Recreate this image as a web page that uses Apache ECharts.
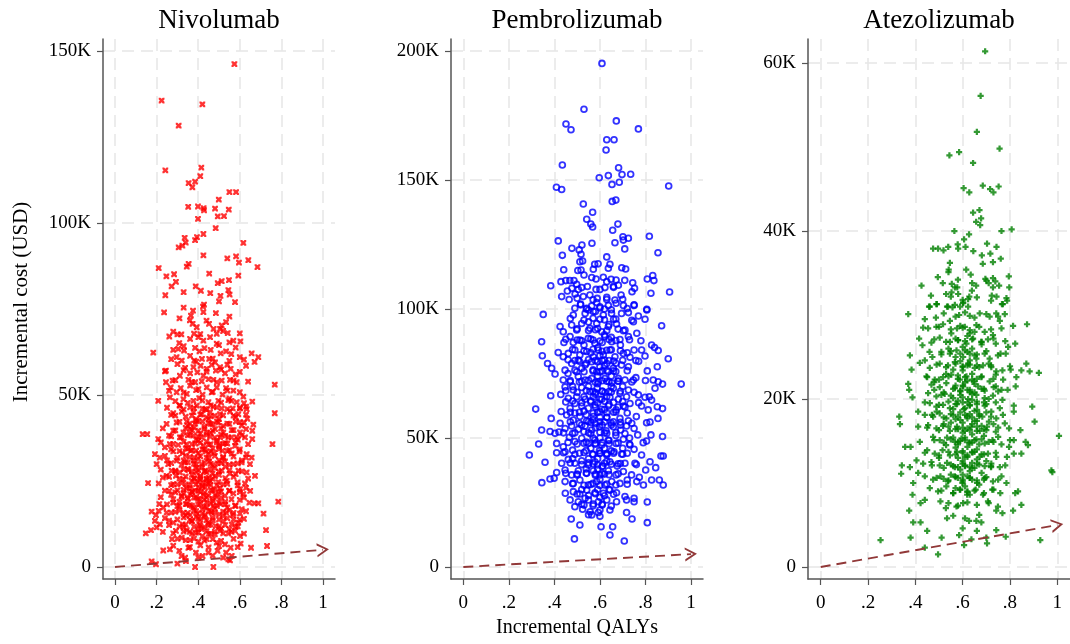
<!DOCTYPE html>
<html>
<head>
<meta charset="utf-8">
<script src="https://cdn.jsdelivr.net/npm/echarts@6/dist/echarts.min.js"></script>
<style>
html,body{margin:0;padding:0;background:#fff;}
#chart{width:1070px;height:644px;}
</style>
</head>
<body>
<div id="chart"></div>
<script>
// ---- data (incremental QALYs, incremental cost in thousand USD) ----
const drugs = ['Nivolumab', 'Pembrolizumab', 'Atezolizumab'];
const xTickValues = [0, 0.2, 0.4, 0.6, 0.8, 1];
const xTickLabels = ['0', '.2', '.4', '.6', '.8', '1'];
const yTicksNivo = [0, 50, 100, 150];
const yTicksPembro = [0, 50, 100, 150, 200];
const yTicksAtezo = [0, 20, 40, 60];
const yAxisTitle = 'Incremental cost (USD)';
const xAxisTitle = 'Incremental QALYs';
const wtpLine = [[0, 0], [1, 5]];

const nivolumab = [
[.574,146.2],[.224,135.6],[.42,134.5],[.306,128.3],[.242,115.3],[.415,116.1],[.41,113.6],[.354,111.6],[.385,112],[.372,110.4],[.55,109],[.582,109],[.499,106.8],[.352,104.7],[.399,104.8],[.426,104.3],[.428,103.7],[.481,104.2],[.547,103.9],[.494,101.9],[.524,102],[.399,101.2],[.484,98.5],[.335,95.7],[.34,94.3],[.324,93.4],[.306,92.9],[.385,95],[.394,95.9],[.425,96.8],[.617,94.2],[.425,90.6],[.54,89.7],[.582,90.3],[.596,88.5],[.641,89.2],[.685,87.2],[.21,86.9],[.345,87.3],[.354,88.1],[.247,84.5],[.284,85.1],[.293,82.9],[.272,81.6],[.453,85.3],[.494,82.5],[.513,83.1],[.548,83.4],[.593,84.7],[.388,81.6],[.413,80.3],[.33,79.9],[.242,79],[.458,79.6],[.507,78.8],[.545,80.5],[.551,79.2],
[.5,77.2],[.428,76.3],[.577,77],[.33,75.4],[.423,75.7],[.236,74],[.375,74.5],[.365,73.1],[.425,74.1],[.485,73.8],[.36,71.7],[.452,70.7],[.513,70.2],[.534,71.2],[.373,70.7],[.393,69.7],[.474,69.2],
[.261,67],[.3,67.6],[.319,67.6],[.38,67.8],[.401,66.8],[.361,66.3],[.425,65.8],[.457,66.8],[.489,67.8],[.505,69.2],[.542,68],[.55,65.3],[.569,65.8],[.603,65.6],[.309,65.1],[.489,64.9],
[.28,63.1],[.304,63.4],[.332,62.9],[.385,63.7],[.406,62.7],[.46,63.1],[.508,62.1],[.534,62.7],[.657,62.1],[.184,62.3],[.689,61],[.296,61],[.361,61.4],[.418,60.5],[.453,60.5],[.481,59.5],[.505,58.1],[.321,60],[.381,60],[.559,61.9],[.671,59.6],
[.3,59],[.337,57.9],[.377,58.1],[.412,58.5],[.441,57.6],[.465,58.8],[.54,58.8],[.63,58.5],[.24,56.9],[.245,57.1],[.361,56.3],[.396,56.6],[.425,55.6],[.485,57.1],[.529,56.3],[.556,57.6],[.312,55.6],[.277,54.2],
[.245,53.7],[.353,54.4],[.385,53.7],[.417,54],[.473,54.4],[.513,54.2],[.553,54.4],[.585,53.7],[.768,53],[.268,52.2],[.316,52],[.361,52.7],[.401,51.7],[.441,52.2],[.489,52.2],[.534,52],[.569,51.3],[.296,50.8],[.345,50.3],[.421,50.1],[.465,50.8],[.517,50.1],[.617,49.5],[.208,48.3],[.264,49.3],
[.329,48.8],[.377,48.3],[.405,49.1],[.449,47.9],[.497,48.3],[.545,48.5],[.585,47.9],[.63,46.6],[.312,46.9],[.361,46.4],[.393,46.9],[.433,45.9],[.473,46.6],[.513,46.1],[.566,46.1],[.601,46.1],[.633,45.9],[.28,44.7],[.321,45.2],[.377,45],[.417,44.4],[.457,45],[.505,44.4],[.553,45.2],[.593,44.4],[.768,44.7],[.636,43.1],[.665,41.4],
[.248,41.6],[.296,42],[.345,42.3],[.385,41.7],[.421,42.3],[.46,41.6],[.497,42],[.54,41.7],[.581,42.3],[.609,41.1],[.28,39.6],[.329,39.1],[.361,40.1],[.401,39.6],[.441,39.1],[.481,40.1],[.521,39.1],[.561,39.8],[.601,39.1],[.66,39.6],[.133,38.6],[.155,38.6],[.208,37.2],[.66,37.2],[.312,37.7],[.377,38.2],[.417,37.7],[.457,37.9],[.505,37.7],[.545,37.7],[.585,37.7],[.625,37.7],
[.264,35.7],[.304,35.5],[.345,35.7],[.385,35.9],[.425,35.2],[.46,35.7],[.501,35.5],[.54,35.9],[.577,35.2],[.757,35.7],[.24,34.8],[.192,32.8],[.28,33.6],[.325,33.1],[.364,33.8],[.401,33.1],[.437,33.6],[.476,33.1],[.517,33.8],[.561,33],[.598,33.6],[.633,32.8],[.657,31.8],[.216,31.8],
[.2,29.9],[.256,29.9],[.296,30.9],[.337,30.4],[.377,30.9],[.417,29.9],[.453,30.7],[.493,30.1],[.529,30.7],[.569,29.9],[.609,30.4],[.649,29.9],[.272,28],[.312,27.5],[.353,28.2],[.393,27.5],[.433,28],[.469,27.2],[.513,28],[.553,27.2],[.593,28],[.633,27.5],[.673,26.5],[.248,26.5],[.293,26.5],
[.159,24.4],[.329,25.5],[.369,25],[.409,25.5],[.421,24.6],[.441,24.3],[.457,25],[.497,24.7],[.537,25],[.589,24.6],[.625,24.3],[.28,24.1],[.261,22.1],[.3,22.3],[.345,22.9],[.385,22.3],[.401,23.1],[.433,23.1],[.469,22.3],[.505,22.9],[.549,22.1],[.601,22.6],[.617,21.2],[.361,21.2],[.425,21],[.481,21],[.321,20.7],[.529,20.7],[.569,21.4],
[.785,19],[.646,18.7],[.67,18.5],[.689,18.5],[.213,18.3],[.232,17.3],[.28,18.7],[.309,17.8],[.345,18.3],[.377,17.3],[.409,18.3],[.441,17.3],[.473,17.8],[.508,18.3],[.54,17.3],[.577,17.8],[.609,16.8],[.176,16.1],[.197,15.1],[.248,15.8],[.329,15.8],[.361,15.1],[.396,15.5],[.433,15.1],[.465,15.8],[.501,15.3],[.534,15.8],[.566,15.1],[.601,15.5],[.714,15.5],
[.192,13.4],[.216,12.4],[.28,12.9],[.325,12.4],[.369,13.4],[.405,12.4],[.449,12.9],[.485,11.9],[.521,13.4],[.561,12.4],[.593,12.9],[.148,9.8],[.173,10.7],[.2,11.5],[.293,10.5],[.345,10.7],[.389,10],[.417,11],[.46,9.7],[.505,10.5],[.545,9.7],[.577,10.5],[.726,10.7],[.321,8.5],[.274,8.1],[.601,9],
[.361,7.8],[.401,7.4],[.441,8.1],[.489,7.1],[.529,6.6],[.556,5.6],[.604,6.8],[.654,5.6],[.731,6.1],[.232,4.8],[.264,5.1],[.309,4.7],[.353,5.6],[.389,4.2],[.449,4.2],[.493,4.7],[.534,4.2],[.561,3.2],[.337,2.7],[.421,3.2],[.545,2.2],[.176,1.6],[.197,.8],[.3,1],[.341,1.7],[.385,0],[.473,0],[.553,1.9],
[.37,44],[.39,43],[.42,46],[.44,43.5],[.46,47],[.48,44],[.35,41],[.38,40.5],[.4,42.5],[.43,40.8],[.45,43],[.47,41.5],[.5,43],[.52,41],[.36,38.5],[.39,37],[.41,38.8],[.44,36.5],[.46,39],[.49,36.8],[.51,38.5],[.53,36],[.34,34.5],[.37,34],[.4,36.8],[.42,34.2],[.45,33],[.47,34.5],[.5,35],[.52,32],[.55,34],[.33,31],[.36,32],[.38,30],[.4,31.5],[.42,29],[.44,31.8],[.46,30],[.48,28.8],[.5,31],[.53,29.2],[.35,28.5],[.37,26.8],[.39,28.8],[.41,26.5],[.43,27.8],[.45,26],[.47,25.6],[.5,26.8],[.52,24],[.34,24],[.36,23],[.38,25.8],[.4,24.8],[.42,23.4],[.44,25.5],[.46,23.8],[.48,22.5],[.51,22],[.33,21.5],[.35,20],[.37,21.8],[.39,20.2],[.41,21.8],[.43,19.6],[.45,20.8],[.47,19.2],[.49,20.4],[.53,19],[.31,19],[.36,18],[.38,16.5],[.4,19.8],[.42,16.8],[.44,18.8],[.46,16.2],[.48,17],[.5,18.8],[.55,16.5],[.34,15],[.37,13.2],[.39,14.6],[.41,13.8],[.43,14.5],[.45,12.2],[.47,13.6],[.52,14.8],[.57,13.8],[.33,11.5],[.36,10.2],[.4,11],[.42,9],[.44,10.4],[.48,9.5],[.51,11.2],[.55,11],[.59,11.8],[.62,14],[.6,19.5],[.63,23],[.58,27],[.61,31],[.59,37],[.62,42],[.57,44],[.55,49],[.58,56],[.6,61],[.31,47],[.29,44],[.27,38],[.25,31],[.23,26],[.29,28],[.3,24],[.27,21],[.26,13.5],[.29,16],
[.31,72.3],[.44,71.6],[.55,72.8],[.28,68.4],[.41,67.7],[.52,68.6],[.6,67.9],[.33,64.2],[.43,63.6],[.5,64.5],[.58,63.8],[.27,60.4],[.39,59.7],[.47,60.6],[.55,59.9],[.62,60.3],[.33,57.2],[.44,56.8],[.51,57.4],[.6,56.7],[.29,54.3],[.37,53.8],[.45,54.6],[.49,53.7],[.57,54.2],[.64,53.9],[.26,51.2],[.33,50.7],[.39,51.4],[.47,50.9],[.54,51.3],[.6,50.8],
[.29,48.2],[.35,47.7],[.42,48.4],[.51,47.8],[.56,48.3],[.62,47.6],[.66,48.1],[.25,46.3],[.33,45.8],[.38,46.2],[.44,45.7],[.49,46.4],[.54,45.9],[.6,46.3],[.27,44.2],[.34,43.7],[.41,44.3],[.46,43.8],[.52,44.1],[.58,43.6],[.63,44.3],[.31,42.2],[.36,41.7],[.39,42.4],[.45,41.8],[.49,42.3],[.55,41.6],[.6,42.1],
[.23,40.3],[.29,39.7],[.34,40.4],[.37,39.8],[.43,40.2],[.47,39.6],[.51,40.3],[.57,39.8],[.63,40.1],[.26,38.2],[.32,37.7],[.35,38.3],[.4,37.8],[.44,38.4],[.48,37.6],[.53,38.1],[.56,37.7],[.61,38.3],[.22,36.2],[.28,35.8],[.33,36.4],[.37,35.7],[.41,36.1],[.45,35.6],[.49,36.3],[.52,35.8],[.58,36.2],[.64,35.7],
[.27,34.2],[.31,33.7],[.35,34.4],[.39,33.8],[.43,34.1],[.46,33.6],[.5,34.3],[.54,33.7],[.6,34.2],[.24,32.3],[.3,31.7],[.34,32.4],[.38,31.8],[.41,32.2],[.45,31.6],[.48,32.3],[.52,31.7],[.57,32.1],[.63,31.8],[.27,30.2],[.32,29.7],[.35,30.4],[.39,29.8],[.43,30.3],[.47,29.6],[.51,30.2],[.55,29.7],[.59,30.1],
[.22,28.3],[.29,27.7],[.33,28.4],[.37,27.8],[.4,28.2],[.44,27.6],[.46,28.3],[.5,27.7],[.55,28.1],[.61,27.8],[.26,26.2],[.31,25.7],[.34,26.3],[.38,25.6],[.41,26.1],[.44,25.7],[.48,26.4],[.53,25.8],[.57,26.2],[.64,25.7],[.21,24.3],[.27,23.8],[.32,24.4],[.36,23.7],[.39,24.1],[.42,23.6],[.45,24.3],[.49,23.8],[.54,24.2],[.59,23.7],
[.24,22.2],[.29,21.7],[.33,22.4],[.37,21.8],[.4,22.1],[.43,21.6],[.46,22.3],[.5,21.7],[.55,22.2],[.6,21.8],[.65,22.1],[.22,20.3],[.28,19.7],[.32,20.4],[.35,19.8],[.38,20.2],[.41,19.6],[.44,20.3],[.47,19.8],[.51,20.1],[.56,19.7],[.62,20.2],[.25,18.2],[.3,17.7],[.34,18.3],[.37,17.8],[.4,18.1],[.43,17.6],[.46,18.4],[.49,17.7],[.53,18.2],[.58,17.8],
[.21,16.3],[.27,15.8],[.31,16.4],[.35,15.7],[.39,16.2],[.42,15.6],[.45,16.3],[.48,15.8],[.52,16.1],[.57,15.7],[.63,16.2],[.24,14.2],[.3,13.8],[.33,14.4],[.36,13.7],[.4,14.1],[.44,13.6],[.47,14.3],[.5,13.8],[.54,14.2],[.6,13.7],[.26,12.2],[.31,11.8],[.34,12.3],[.38,11.7],[.41,12.1],[.43,11.6],[.46,12.3],[.5,11.8],[.53,12.2],[.58,11.7],
[.23,10.2],[.28,9.8],[.33,10.3],[.37,9.7],[.4,10.1],[.45,9.6],[.48,10.3],[.52,9.8],[.56,10.2],[.62,9.7],[.3,8.2],[.34,7.8],[.38,8.3],[.43,7.7],[.47,8.1],[.51,7.6],[.57,8.2],[.28,6.2],[.36,5.8],[.41,6.3],[.45,5.7],[.5,6.1],[.59,5.8],[.32,3.2],[.4,2.8],[.47,3.3],[.52,2.7]
];

const pembrolizumab = [
[.609,195.2],[.53,177.4],[.451,171.7],[.473,169.5],[.672,172.9],[.769,169.8],[.63,165.6],[.662,165.6],[.627,161.6],[.435,155.8],[.682,154.7],[.637,151.7],[.697,152.1],[.735,152.2],[.597,150.9],[.653,148.3],[.685,149.1],[.409,147.2],[.432,146.3],[.902,147.7],[.527,140.7],[.654,141.7],[.67,142.2],[.568,137.5],[.542,134.8],[.56,132.9],[.568,131.8],[.679,132.9],[.656,130.5],[.417,126.4],[.565,125.5],[.521,124.8],[.477,123.5],[.509,122.9],[.517,121.2],[.666,125.7],[.703,126.7],[.725,127.4],[.701,128],[.709,123.3],[.817,128.2],[.855,121.8],[.435,120.8],[.63,120.2],[.512,118.3],[.524,118.6],[.503,114.9],[.517,115.1],[.53,113.2],[.577,117.3],[.592,117.5],[.644,117.3],[.637,115.8],[.571,115.4],[.441,115.2],[.696,116],[.713,115.5],
[.564,112.2],[.583,111.6],[.615,112.3],[.63,110.6],[.649,111.5],[.671,111.2],[.681,109.2],[.709,111.1],[.429,110.6],[.45,111],[.468,111],[.486,111],[.498,109.6],[.744,110.2],[.808,111.6],[.832,113],[.837,111],[.384,109],[.457,107],[.477,108],[.505,107.6],[.545,108.7],[.583,107.6],[.622,108.3],[.659,108.7],[.752,108],[.741,106.7],[.432,104.8],[.465,103.7],[.491,105.8],[.527,104.8],[.556,105.4],[.588,104.1],[.63,103.7],[.666,103.5],[.693,105.4],[.824,106.1],[.906,106.6],[.515,101.6],[.564,101.2],[.6,100.9],[.637,101.4],[.703,101.4],[.75,101.4],[.806,99.9],[.542,100.3],
[.515,101.9],[.586,102.5],[.671,102.2],[.75,101.6],[.806,99.6],[.483,97.7],[.535,98.3],[.571,99],[.615,97.7],[.651,98.3],[.695,98.3],[.725,98.6],[.769,97.3],[.798,96],[.871,93.5],[.747,95.1],[.762,90.6],[.351,97.9],
[.425,93.2],[.439,91.2],[.476,93.8],[.498,91.9],[.52,94.4],[.556,92.5],[.586,94.4],[.608,91.2],[.637,93.2],[.673,94.2],[.703,91.6],[.725,89.3],[.469,89.3],[.512,88],[.549,88.6],[.578,86.7],[.622,89.3],[.652,87.3],[.688,88.2],[.344,87.3],[.442,87],[.483,87],[.827,86],[.84,85.1],[.856,83.9],
[.347,81.9],[.37,78.9],[.388,77],[.403,74.8],[.417,83.1],[.439,81.5],[.461,82.8],[.49,84.1],[.512,82.2],[.542,83.5],[.571,81.5],[.593,84.1],[.615,82.2],[.644,84.1],[.666,81.5],[.703,82.8],[.732,81.3],[.758,80],[.783,84.1],[.798,81.8],[.9,80.7],[.476,78.9],[.505,80.2],[.535,78.3],[.564,79.6],[.6,77.6],[.63,78.9],[.659,77],[.695,78.3],[.725,77.6],[.447,76.3],[.498,75.7],[.586,75.7],[.637,75.7],[.852,77.6],[.808,76],
[.439,72.5],[.469,71.8],[.505,73.8],[.535,72.5],[.564,73.1],[.593,71.8],[.622,73.1],[.652,71.4],[.681,73.1],[.71,72.5],[.747,72.5],[.758,73.4],[.834,72.5],[.856,71.8],[.875,70.9],[.842,69.3],[.957,70.9],[.447,69.8],[.483,68.6],[.52,69.6],[.556,68],[.588,69.3],[.622,67.6],[.659,69.3],[.688,67.3],[.725,68.6],[.769,66.7],[.384,66.4],[.428,66.9],[.461,65.4],[.498,66],[.535,65],[.571,66],[.608,65],[.644,65.8],[.681,65],[.717,66],[.798,65.8],[.817,66],[.827,64.7],
[.318,61.2],[.469,61.5],[.49,63.4],[.52,62.4],[.549,61.5],[.578,62.8],[.608,61.1],[.637,62.4],[.671,60.9],[.703,62.4],[.732,63.4],[.783,62.4],[.812,60.9],[.852,62.1],[.875,61.4],[.855,57.6],[.386,57.6],[.454,58.9],[.483,57],[.512,58.3],[.542,56.7],[.571,58.3],[.6,56.3],[.63,58],[.659,56.3],[.688,57.6],[.725,56.7],[.76,58.3],[.805,55.9],[.344,53.1],[.381,52.5],[.403,51.8],[.425,55.7],[.447,53.7],[.476,54.7],[.505,53.4],[.535,54.7],[.564,53.1],[.598,54.4],[.627,52.8],[.659,54.4],[.691,53.1],[.717,54.7],[.75,53.7],[.766,51.2],
[.331,47.7],[.29,43.4],[.41,47.9],[.439,46.6],[.466,50.3],[.49,48.6],[.52,49.9],[.549,47.9],[.578,49.2],[.608,47.3],[.637,49.2],[.671,47.9],[.703,49.5],[.732,47.3],[.75,45.6],[.805,48.8],[.824,51.2],[.875,50.6],[.783,43.4],[.868,43],[.878,43],[.41,44.3],[.447,44.7],[.48,45.3],[.51,44.1],[.539,45.1],[.568,43.8],[.598,45.1],[.63,43.4],[.662,44.7],[.695,43.8],[.72,44.1],
[.359,40.6],[.432,40.2],[.461,41.7],[.49,40.2],[.52,41.2],[.549,39.5],[.578,40.8],[.612,39.1],[.644,40.8],[.676,39.1],[.71,40.2],[.754,40.2],[.82,40.8],[.845,38.5],[.801,37.6],[.41,36.6],[.447,37.6],[.476,35.7],[.505,37.3],[.542,36.3],[.571,37.3],[.6,35.7],[.637,37.3],[.671,35.7],[.703,37],[.739,35.7],[.773,34.8],[.345,32.7],[.381,34.1],[.399,34.4],[.827,33.7],[.861,33.7],[.878,31.8],
[.447,33.1],[.483,32.4],[.512,33.7],[.549,31.8],[.586,33.1],[.622,31.8],[.652,33.1],[.688,32.4],[.72,33.7],[.762,33.1],[.791,31.8],[.448,28.6],[.483,29.2],[.512,28.3],[.542,29.8],[.578,28.8],[.615,28.6],[.644,29.8],[.673,28.8],[.71,27.3],[.75,26.6],[.808,25.2],[.469,26],[.505,25.3],[.535,26.6],[.571,24.4],[.593,25.3],[.63,26],[.673,25.3],[.717,26],[.75,25.3],[.557,21.4],[.6,22.1],[.644,22.1],[.49,23.4],[.524,22.4],[.717,21.1],
[.474,18.6],[.512,16.3],[.605,15.6],[.656,15.6],[.644,12.4],[.741,18.6],[.808,17.2],[.488,10.9],[.707,10.1],[.564,20.2],[.593,21.1],
[.55,95],[.58,92],[.6,96],[.62,90],[.64,94],[.57,88],[.59,85],[.61,87],[.63,84],[.65,89],[.53,86],[.56,83],[.58,80],[.6,82],[.62,78],[.64,80],[.66,76],[.54,79],[.57,76],[.59,74],[.61,76],[.63,72],[.65,74],[.67,79],[.52,72],[.55,70],[.57,68],[.59,71],[.61,68],[.63,66],[.65,70],[.68,72],[.53,66],[.56,64],[.58,62],[.6,65],[.62,61],[.64,63],[.66,60],[.51,60],[.54,59],[.57,57],[.59,60],[.61,55],[.63,58],[.65,55],[.52,55],[.55,52],[.58,54],[.6,50],[.62,52],[.64,49],[.67,51],[.53,48],[.56,46],[.58,48],[.6,44],[.62,46],[.65,45],[.55,42],[.57,40],[.59,42],[.61,39],[.63,41],[.54,38],[.58,36],[.6,34],[.62,36],[.56,32],[.59,30],[.52,30],[.64,30],[.5,88],[.49,80],[.48,70],[.47,60],[.49,52],[.48,42],[.5,36],[.69,86],[.7,70],[.71,62],[.69,55],[.7,46],[.68,40],[.72,83],[.46,75],[.45,64],[.44,52],[.73,50],[.66,96],[.54,100],[.62,100],[.58,99],[.68,62],[.6,58],[.56,56],[.64,68],[.52,77],[.58,67],[.61,80],[.57,50],[.63,44],[.59,38],[.55,26],[.6,27],[.61,24],[.53,24],
[.52,108.3],[.6,107.6],[.66,108.4],[.5,104.2],[.57,103.6],[.63,104.5],[.7,103.8],[.49,100.3],[.55,99.6],[.6,100.4],[.65,99.7],[.72,100.2],[.47,96.3],[.53,95.7],[.57,96.4],[.62,95.8],[.67,96.1],[.74,95.6],[.5,92.3],[.55,91.7],[.59,92.4],[.63,91.6],[.68,92.2],[.71,91.8],
[.45,88.3],[.52,87.7],[.56,88.4],[.6,87.6],[.64,88.2],[.67,87.8],[.73,88.1],[.78,87.7],[.48,84.3],[.53,83.7],[.57,84.4],[.61,83.6],[.65,84.2],[.69,83.8],[.75,84.1],[.46,80.3],[.51,79.7],[.55,80.4],[.59,79.6],[.62,80.2],[.66,79.8],[.7,80.1],[.77,79.7],[.49,76.3],[.53,75.7],[.57,76.4],[.6,75.6],[.63,76.2],[.67,75.8],[.72,76.1],
[.47,72.3],[.51,71.7],[.55,72.4],[.58,71.6],[.61,72.2],[.64,71.8],[.68,72.1],[.74,71.7],[.8,72.3],[.45,68.3],[.5,67.7],[.54,68.4],[.58,67.6],[.61,68.2],[.65,67.8],[.69,68.1],[.75,67.7],[.48,64.3],[.52,63.7],[.56,64.4],[.59,63.6],[.62,64.2],[.66,63.8],[.7,64.1],[.77,63.7],[.43,60.3],[.49,59.7],[.53,60.4],[.57,59.6],[.6,60.2],[.63,59.8],[.67,60.1],[.72,59.7],
[.47,56.3],[.51,55.7],[.55,56.4],[.58,55.6],[.62,56.2],[.65,55.8],[.69,56.1],[.74,55.7],[.82,56.2],[.42,52.3],[.48,51.7],[.53,52.4],[.56,51.6],[.6,52.2],[.63,51.8],[.67,52.1],[.71,51.7],[.46,48.3],[.5,47.7],[.54,48.4],[.58,47.6],[.61,48.2],[.64,47.8],[.68,48.1],[.73,47.7],[.79,48.2],
[.44,44.3],[.49,43.7],[.53,44.4],[.57,43.6],[.6,44.2],[.63,43.8],[.66,44.1],[.7,43.7],[.47,40.3],[.52,39.7],[.55,40.4],[.59,39.6],[.62,40.2],[.65,39.8],[.69,40.1],[.76,39.7],[.45,36.3],[.5,35.7],[.54,36.4],[.58,35.6],[.61,36.2],[.64,35.8],[.68,36.1],[.48,32.3],[.53,31.7],[.57,32.4],[.6,31.6],[.63,32.2],[.67,31.8],[.72,32.1],[.5,28.3],[.55,27.7],[.58,28.4],[.62,27.6],[.66,28.2],[.52,24.3],[.57,23.7],[.61,24.4],[.65,23.6],[.55,20.3],[.6,19.7]
];

const atezolizumab = [
[.695,61.4],[.676,56.1],[.66,51.8],[.544,49],[.585,49.4],[.756,49.8],[.644,48.1],[.604,45.1],[.628,44.6],[.685,45.4],[.716,45],[.73,44.6],[.752,45.3],[.671,42.5],[.644,42.2],[.678,41.5],[.657,41.1],[.674,40.7],[.565,40],[.627,39.6],[.764,40],[.807,40.2],[.606,39],[.579,38.4],[.581,37.9],[.612,38.1],[.539,38.1],[.475,37.9],[.496,37.9],[.519,37.7],[.703,38.5],[.743,38.1],[.717,37.3],[.681,37.1],[.645,37.6],[.761,36.7],[.546,36.2],[.685,36.1],[.728,36.3],[.54,35.1],[.541,35.4],[.615,35.4],[.634,34.8],[.495,34.5],[.516,33.8],[.554,33.7],[.567,33.3],[.577,33.3],[.581,32.5],[.553,32.7],[.696,34.3],[.728,34.4],[.738,34],[.71,33.8],[.728,33.3],[.754,33.5],[.795,34.6],[.797,33.3],[.657,33.5],[.639,32.9],[.426,33.5],[.466,32.3],[.53,32.5],[.628,32.2],[.623,31.9],[.723,32.3],[.743,32.2],[.785,32],[.788,31.7],[.458,31],[.491,31.3],[.534,31],[.557,30.9],[.589,31],[.602,31.4],[.766,31.3],
[.461,31],[.489,31.3],[.538,31],[.567,31.2],[.602,31.5],[.623,31],[.77,31.3],[.37,30.1],[.44,29.5],[.487,29.7],[.546,29.3],[.585,30],[.63,29.9],[.672,30.2],[.714,29.8],[.742,30.2],[.778,30.1],[.757,29.3],[.813,28.7],[.872,28.9],
[.433,28.5],[.454,28.4],[.489,28.6],[.517,28.9],[.552,27.8],[.576,28.4],[.609,28.6],[.63,27.8],[.658,28.8],[.693,28],[.728,27.6],[.764,28.4],[.416,27.2],[.503,27.3],[.546,26.8],[.581,27],[.616,26.6],[.644,27.2],[.679,26.8],[.707,27.1],[.74,26.6],[.822,26.6],[.43,26.4],[.468,26.7],[.792,26.2],
[.377,25.2],[.51,25.6],[.546,25.4],[.574,25.8],[.602,25],[.63,25.4],[.658,24.8],[.693,25.4],[.714,24.8],[.749,25.2],[.782,25.4],[.472,25],[.44,24.6],[.419,24.3],[.503,24.2],[.538,24],[.567,24.4],[.6,23.8],[.623,24.2],[.651,23.7],[.686,24],[.721,23.8],[.742,23.3],[.768,23.4],[.803,23.5],[.869,24.2],[.883,23.3],[.922,23.1],[.384,23.5],[.461,23.7],[.848,23.4],
[.447,22.7],[.482,22.3],[.517,22.6],[.552,22.9],[.588,22.3],[.616,22.7],[.647,22.1],[.679,22.6],[.714,22.1],[.74,22.9],[.771,22.3],[.827,22.6],[.468,21.7],[.503,21.4],[.531,21.9],[.567,21.3],[.602,21.5],[.63,21.1],[.665,21.5],[.693,21],[.731,21.4],[.764,21.1],[.824,21.5],[.37,21.8],[.374,21.1],[.388,20.2],[.454,20.7],[.489,20.3],[.524,20.6],[.56,20.1],[.59,20.5],[.623,20],[.658,20.5],[.693,20.1],[.728,20.4],[.768,19.9],
[.332,17.9],[.335,17],[.816,19.2],[.894,19.1],[.816,18.5],[.904,17.3],[.461,19.5],[.489,19.1],[.517,19.3],[.546,18.9],[.576,19.4],[.605,18.8],[.63,19.2],[.661,18.7],[.693,19.2],[.721,18.5],[.757,18.9],[.412,18.5],[.44,18.1],[.475,17.9],[.503,18.3],[.531,17.7],[.56,18.1],[.59,17.5],[.619,18],[.651,17.4],[.683,17.9],[.711,17.3],[.742,17.7],[.778,17.1],[.412,16.7],[.454,16.9],[.489,16.5],[.517,16.8],[.546,16.2],[.576,16.7],[.609,16.2],[.637,16.7],[.672,16.2],[.703,16.7],[.74,16.1],[.796,16.5],[.844,16.3],[1.007,15.6],
[.357,14.3],[.38,14.3],[.419,14.9],[.475,15.5],[.503,15.1],[.534,15.4],[.567,14.9],[.595,15.3],[.627,14.8],[.658,15.2],[.693,14.7],[.726,15.1],[.764,14.6],[.796,14.3],[.816,15.1],[.866,14.9],[.876,14.5],[.45,13.9],[.482,13.5],[.515,13.9],[.546,13.3],[.576,13.7],[.609,13.1],[.641,13.6],[.672,13.1],[.707,13.5],[.742,13.1],[.787,13.1],[.816,13.5],[.848,13.5],[.343,12.1],[.377,11.9],[.405,12.7],[.433,12.3],[.468,12.5],[.503,12.1],[.534,12.4],[.567,11.9],[.599,12.3],[.63,11.9],[.661,12.3],[.693,12],[.721,12.3],[.757,11.9],[.979,11.3],[.975,11.5],
[.34,11.1],[.391,10],[.412,11.2],[.44,10.8],[.475,10.4],[.506,10.8],[.538,10.2],[.567,10.8],[.599,10],[.63,10.6],[.661,10],[.693,10.6],[.728,10.2],[.764,10.8],[.785,10],[.461,9.4],[.496,9],[.531,9.6],[.56,8.8],[.588,9.2],[.619,8.6],[.655,9.2],[.686,8.6],[.725,9.2],[.759,8.8],[.822,8.8],[.834,9],[.388,8.6],[.44,8],[.422,7.6],[.506,7.8],[.529,7],[.574,7.2],[.602,7.6],[.707,7.8],[.749,7.2],[.768,6.4],[.742,6.7],[.813,6.7],[.848,7.4],
[.374,6.7],[.391,5.3],[.422,5.3],[.534,5.8],[.627,5.5],[.658,5.5],[.679,5.3],[.742,4.4],[.782,3.6],[.45,4.3],[.511,3.5],[.38,3.5],[.253,3.2],[.585,3.8],[.637,3.3],[.7,3.5],[.606,2.6],[.703,2.8],[.44,2.3],[.496,1.5],[.928,3.2],
[.58,27],[.6,26.2],[.62,27.5],[.64,26],[.57,25],[.59,24.5],[.61,25.8],[.63,24.6],[.65,25.2],[.56,23.5],[.58,22.8],[.6,23.4],[.62,22.2],[.64,23],[.66,22.4],[.57,21.6],[.59,21],[.61,22],[.63,20.8],[.65,21.8],[.68,21.2],[.55,20.4],[.58,19.8],[.6,20.2],[.62,19.6],[.64,19.9],[.66,19.4],[.69,19.6],[.56,18.8],[.59,18.4],[.61,18.9],[.63,18.2],[.65,18.6],[.67,18],[.7,18.4],[.57,17.6],[.6,17.2],[.62,17.7],[.64,17],[.66,17.4],[.68,16.8],[.58,16.4],[.6,16],[.62,16.5],[.64,15.8],[.66,16.2],[.69,15.6],[.56,15.4],[.59,15],[.61,15.4],[.63,14.8],[.65,15.1],[.67,14.6],[.71,14.9],[.57,14.2],[.6,13.8],[.62,14.3],[.64,13.7],[.66,14],[.68,13.4],[.58,13],[.6,12.6],[.62,13.1],[.64,12.4],[.66,12.8],[.7,12.6],[.56,12],[.59,11.6],[.61,12],[.63,11.4],[.65,11.8],[.68,11.2],[.58,10.6],[.6,10.2],[.62,10.8],[.64,10.4],[.67,9.8],[.57,9.4],[.61,9.6],[.63,8.6],[.55,11],[.53,14.5],[.52,17],[.51,20.5],[.53,23],[.54,26],[.72,24],[.71,20],[.73,17],[.72,12],[.69,10.4],[.49,18.5],[.5,13],[.48,22],[.74,21.5],[.75,15.5],[.6,21.6],[.62,24],[.58,14.6],[.64,20.6],[.6,11],[.66,24],[.55,17.2],[.7,16.3],[.52,10.5],[.62,9],[.65,28],[.6,28.5],[.68,26.5],
[.58,34.2],[.64,33.8],[.7,34.1],[.55,32.2],[.6,31.8],[.66,32.1],[.72,31.7],[.52,30.2],[.57,29.8],[.61,30.3],[.65,29.7],[.7,30.1],[.75,29.8],[.5,28.6],[.55,28.3],[.59,28.7],[.63,28.2],[.67,28.6],[.72,28.3],[.48,27.1],[.53,26.8],[.57,27.2],[.61,26.9],[.64,27.1],[.68,26.8],[.73,27.2],[.78,26.9],
[.46,25.6],[.51,25.3],[.55,25.7],[.59,25.4],[.62,25.6],[.66,25.3],[.7,25.7],[.76,25.4],[.49,24.1],[.53,23.8],[.57,24.2],[.6,23.9],[.63,24.1],[.67,23.8],[.71,24.2],[.8,23.9],[.45,22.6],[.5,22.3],[.54,22.7],[.58,22.4],[.61,22.6],[.64,22.3],[.68,22.7],[.73,22.4],
[.48,21.1],[.52,20.8],[.56,21.2],[.59,20.9],[.62,21.1],[.65,20.8],[.69,21.2],[.75,20.9],[.79,21.1],[.44,19.6],[.5,19.3],[.54,19.7],[.57,19.4],[.6,19.6],[.63,19.3],[.66,19.7],[.7,19.4],[.74,19.6],[.47,18.1],[.52,17.8],[.55,18.2],[.58,17.9],[.61,18.1],[.64,17.8],[.67,18.2],[.72,17.9],[.77,18.1],
[.45,16.6],[.5,16.3],[.54,16.7],[.57,16.4],[.6,16.6],[.63,16.3],[.66,16.7],[.69,16.4],[.75,16.6],[.48,15.1],[.52,14.8],[.55,15.2],[.58,14.9],[.61,15.1],[.64,14.8],[.68,15.2],[.73,14.9],[.8,15.1],[.44,13.6],[.5,13.3],[.54,13.7],[.57,13.4],[.6,13.6],[.62,13.3],[.65,13.7],[.69,13.4],[.74,13.6],
[.47,12.1],[.52,11.8],[.55,12.2],[.58,11.9],[.61,12.1],[.64,11.8],[.67,12.2],[.72,11.9],[.78,12.1],[.49,10.6],[.54,10.3],[.57,10.7],[.6,10.4],[.63,10.6],[.66,10.3],[.7,10.7],[.75,10.4],[.51,9.1],[.56,8.8],[.59,9.2],[.62,8.9],[.65,9.1],[.69,8.8],[.73,9.2],[.54,7.6],[.58,7.3],[.62,7.7],[.66,7.4],[.71,7.6],[.56,6.1],[.61,5.8],[.67,6.2],[.6,4.6],[.66,4.3]
];

// ---- styling ----
const FONT = '"Liberation Serif", "DejaVu Serif", serif';
const gridColor = '#e6e6e6';
const axisColor = '#555';
const wtpColor = '#913838';
const crossPath = 'path://M0,0 L3,0 L5,2 L7,0 L10,0 L10,3 L8,5 L10,7 L10,10 L7,10 L5,8 L3,10 L0,10 L0,7 L2,5 L0,3 Z';
const plusPath = 'path://M3.2,0 L6.8,0 L6.8,3.2 L10,3.2 L10,6.8 L6.8,6.8 L6.8,10 L3.2,10 L3.2,6.8 L0,6.8 L0,3.2 L3.2,3.2 Z';
const openArrow = 'path://M5,0 L10,10 L8.5,10 L5,3 L1.5,10 L0,10 Z';

const panels = [
  { data: nivolumab, yTicks: yTicksNivo, yMin: -3.49, yMax: 153.49, xMin: -0.0577, xMax: 1.0577,
    grid: { left: 103, top: 39, width: 232, height: 540 },
    symbol: crossPath, size: 5.8, itemStyle: { color: '#ff0000' } },
  { data: pembrolizumab, yTicks: yTicksPembro, yMin: -4.65, yMax: 204.65, xMin: -0.054, xMax: 1.0527,
    grid: { left: 451, top: 39, width: 252, height: 540 },
    symbol: 'circle', size: 5.8, itemStyle: { color: 'rgba(0,0,0,0)', borderColor: '#0000ff', borderWidth: 1.8 } },
  { data: atezolizumab, yTicks: yTicksAtezo, yMin: -1.43, yMax: 62.86, xMin: -0.0536, xMax: 1.0536,
    grid: { left: 808, top: 39, width: 262, height: 540 },
    symbol: plusPath, size: 6.2, itemStyle: { color: '#008000' } }
];

const splitLineStyle = { show: true, lineStyle: { color: gridColor, width: 1.5, type: [12, 7] } };

const option = {
  animation: false,
  backgroundColor: '#fff',
  title: panels.map((p, i) => ({
    text: drugs[i],
    left: p.grid.left + p.grid.width / 2,
    textAlign: 'center',
    top: 7,
    padding: 0,
    textStyle: { fontFamily: FONT, fontSize: 27, fontWeight: 'normal', color: '#000' }
  })),
  grid: panels.map(p => p.grid),
  xAxis: panels.map((p, i) => ({
    type: 'value', gridIndex: i, min: p.xMin, max: p.xMax,
    name: i === 1 ? xAxisTitle : '', nameLocation: 'middle', nameGap: 38,
    nameTextStyle: { fontFamily: FONT, fontSize: 20, color: '#000' },
    axisLine: { show: true, onZero: false, lineStyle: { color: axisColor, width: 1.5 } },
    axisTick: { show: true, length: 6, customValues: xTickValues, lineStyle: { color: axisColor, width: 1.2 } },
    axisLabel: { customValues: xTickValues, margin: 15, fontFamily: FONT, fontSize: 19, color: '#000',
      formatter: v => xTickLabels[xTickValues.findIndex(t => Math.abs(t - v) < 1e-9)] },
    splitLine: splitLineStyle
  })),
  yAxis: panels.map((p, i) => ({
    type: 'value', gridIndex: i, min: p.yMin, max: p.yMax,
    name: i === 0 ? yAxisTitle : '', nameLocation: 'middle', nameGap: 71,
    nameTextStyle: { fontFamily: FONT, fontSize: 21, color: '#000', padding: [0, 0, 0, 14] },
    axisLine: { show: true, onZero: false, lineStyle: { color: axisColor, width: 1.5 } },
    axisTick: { show: true, length: 6, customValues: p.yTicks, lineStyle: { color: axisColor, width: 1.2 } },
    axisLabel: { customValues: p.yTicks, margin: 12, fontFamily: FONT, fontSize: 19, color: '#000',
      formatter: v => (Math.abs(v) < 1e-9 ? '0' : Math.round(v) + 'K') },
    splitLine: splitLineStyle
  })),
  series: panels.map((p, i) => ({
    type: 'scatter', xAxisIndex: i, yAxisIndex: i,
    data: p.data, symbol: p.symbol, symbolSize: p.size,
    itemStyle: p.itemStyle, silent: true,
    markLine: {
      silent: true, animation: false,
      symbol: ['none', openArrow], symbolSize: [14, 12],
      label: { show: false },
      lineStyle: { color: wtpColor, width: 1.9, type: [10, 6] },
      data: [[{ coord: wtpLine[0] }, { coord: wtpLine[1] }]]
    }
  }))
};

const chart = echarts.init(document.getElementById('chart'), null, { renderer: 'canvas' });
chart.setOption(option);
</script>
</body>
</html>
